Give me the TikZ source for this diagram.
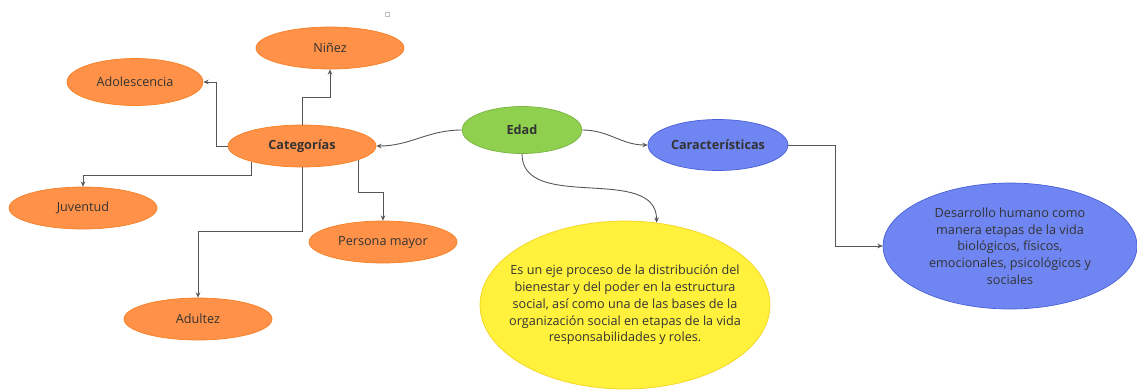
\documentclass[tikz,border=0pt]{standalone}
\usepackage{fontspec}
\setmainfont{Open Sans}
\usetikzlibrary{shapes.geometric,arrows.meta}
\definecolor{naranja}{HTML}{FF9248}
\definecolor{naranjaborde}{HTML}{F58025}
\definecolor{verde}{HTML}{8FD14F}
\definecolor{azul}{HTML}{6F86F2}
\definecolor{azulborde}{HTML}{4A5FD6}
\definecolor{amarillo}{HTML}{FFF13C}
\definecolor{amarilloborde}{HTML}{F2D421}
\definecolor{texto}{HTML}{333333}
\definecolor{linea}{HTML}{555555}
\begin{document}
\begin{tikzpicture}
	[x=0.02cm,y=-0.02cm,
	elip/.style={ellipse,inner sep=0pt,align=center,text=texto,font=\fontsize{7.2}{9.5}\selectfont},
	cat/.style={elip,draw=naranjaborde,fill=naranja,minimum width=2.96cm,minimum height=0.84cm},
	>={Stealth[length=3pt,width=2.6pt]},
	con/.style={->,linea,line width=0.5pt}]
	\useasboundingbox (0,0) rectangle (1137,390);
	\draw[gray!50,line width=0.3pt] (385,12) rectangle (389,16);
	\node[elip,fill=verde,draw=verde!85!black,minimum width=2.4cm,minimum height=0.94cm,font=\fontsize{7.2}{9.5}\selectfont\bfseries,name=edad]at(522,130){Edad};
	\node[cat,font=\fontsize{7.2}{9.5}\selectfont\bfseries,name=categ]at(302,146){Categorías};
	\node[elip,fill=azul,draw=azulborde,minimum width=2.8cm,minimum height=1.02cm,font=\fontsize{7.2}{9.5}\selectfont\bfseries,name=caract]at(718,145){Características};
	\node[cat,name=ninez]at(330,48){Niñez};
	\node[cat,minimum width=2.72cm,minimum height=0.94cm,name=adol]at(135,82){Adolescencia};
	\node[cat,name=juv]at(83,208){Juventud};
	\node[cat,name=pers]at(383,242){Persona mayor};
	\node[cat,name=adul]at(198,319){Adultez};
	\node[elip,fill=amarillo,draw=amarilloborde,inner xsep=-0.3cm,minimum width=5.8cm,minimum height=3.36cm,name=defin]at(625,305){Es un eje proceso de la distribución del\\bienestar y del poder en la estructura\\social, así como una de las bases de la\\organización social en etapas de la vida\\responsabilidades y roles.};
	\node[elip,fill=azul,draw=azulborde,minimum width=5.08cm,minimum height=2.52cm,name=desarr]at(1010,246){Desarrollo humano como\\manera etapas de la vida\\biológicos, físicos,\\emocionales, psicológicos y\\sociales};
	% desde Edad
	\draw[con](edad.west) to[out=180,in=0] (categ.east);
	\draw[con](edad.east) to[out=0,in=180] (caract.west);
	\draw[con](edad.south) to[out=-90,in=90] (defin.69);
	% categorias
	\draw[con](categ.north) -- ++(0,-27) -| (ninez.south);
	\draw[con](categ.west) -- ++(-11,0) |- (adol.east);
	\draw[con](categ.197) -- (categ.197 |- 0,175) -| (juv.north);
	\draw[con](categ.south) -- (categ.south |- 0,231) -| (adul.north);
	\draw[con](categ.346) -- (categ.346 |- 0,192) -| (pers.north);
	\draw[con](caract.east) -- ++(47,0) |- (desarr.west);
\end{tikzpicture}
\end{document}
